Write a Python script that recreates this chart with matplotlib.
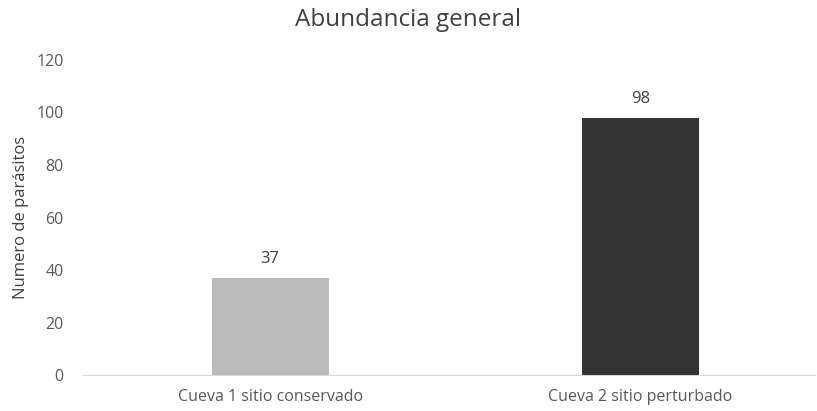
import matplotlib.pyplot as plt

cats = ["Cueva 1 sitio conservado", "Cueva 2 sitio perturbado"]
vals = [37, 98]
cols = ["#BABABA", "#333333"]
yt = [0, 20, 40, 60, 80, 100, 120]

plt.rcParams["font.family"] = ["Open Sans", "DejaVu Sans"]
tc = "#595959"

fig = plt.figure(figsize=(8.17, 4.11), dpi=100)
ax = fig.add_axes([83 / 817, 1 - 375 / 411, (815 - 83) / 817, (375 - 60) / 411])

x = list(range(len(cats)))
b = ax.bar(x, vals, width=0.316, color=cols)
for r, v in zip(b, vals):
    ax.text(r.get_x() + r.get_width() / 2, v + 4, str(v),
            ha="center", va="bottom", fontsize=12, color="#404040")

ax.set_xlim(-0.505, 1.471)
ax.set_ylim(0, 120)
ax.set_yticks(yt)
ax.set_xticks(x)
ax.set_xticklabels(cats)
ax.tick_params(axis="both", length=0, labelsize=11.5, colors=tc)
ax.tick_params(axis="y", pad=14)
ax.tick_params(axis="x", pad=10)
for s in ["top", "right", "left"]:
    ax.spines[s].set_visible(False)
ax.spines["bottom"].set_color("#D9D9D9")
ax.set_ylabel("Numero de parásitos", fontsize=12, color="#404040", labelpad=5)
fig.suptitle("Abundancia general", y=0.98, fontsize=17.5, color="#404040")

fig.savefig("out.png", dpi=100)
